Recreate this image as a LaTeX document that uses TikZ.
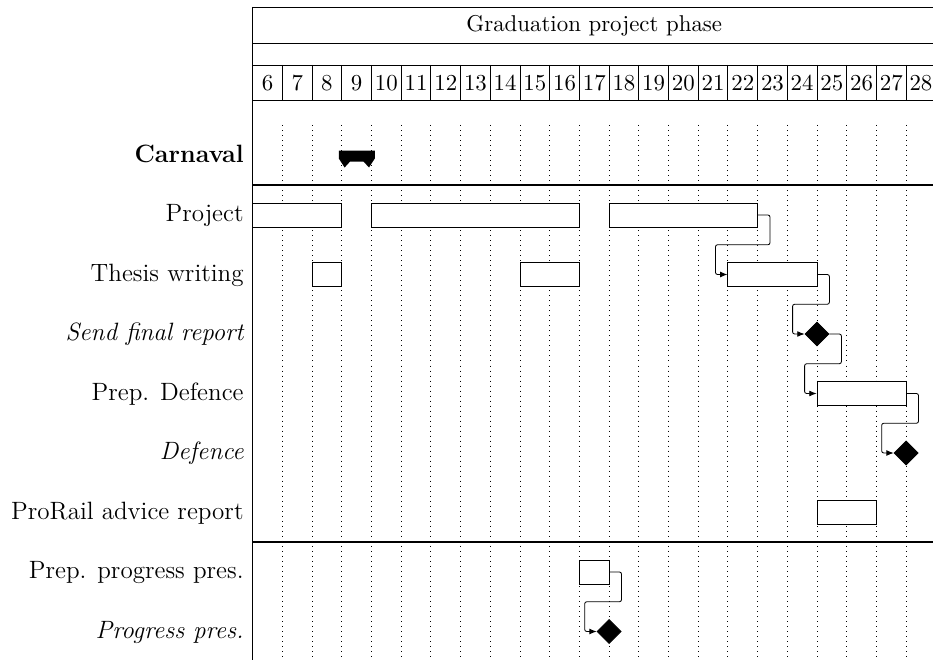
\documentclass[tikz,border=0pt]{standalone}
\usetikzlibrary{shapes.geometric,fit,calc,arrows.meta}
\begin{document}
\begin{tikzpicture}[x=0.479pt,y=-0.479pt,
  every node/.style={font=\fontsize{10.95}{13.6}\selectfont},
  frame/.style={line width=0.4pt},
  sepline/.style={line width=0.8pt},
  gridline/.style={dotted, line width=0.4pt},
  taskbar/.style={draw, fill=white, line width=0.4pt, inner sep=0pt},
  ms/.style={diamond, draw, fill=black, inner sep=0pt, minimum width=11.5pt, minimum height=11.5pt},
  lbl/.style={anchor=base east, inner sep=0pt, font=\fontsize{12}{14.5}\selectfont},
  lnk/.style={line width=0.4pt, rounded corners=1pt, -{Latex[length=3.5pt,width=2.8pt]}},
]
\clip (0,0) rectangle (933,660);

% header: title row, empty row, week numbers
\draw[frame] (252.7,7) -- (935.8,7);
\draw[frame] (252.7,43) -- (935.8,43);
\draw[frame] (252.7,65) -- (935.8,65);
\draw[frame] (252.7,100) -- (935.8,100);
\node[anchor=base] (title) at (594.25,32) {Graduation project phase};
\foreach \i in {1,...,22}
  \draw[frame] (252.7+29.7*\i,65) -- (252.7+29.7*\i,100);
\foreach \i in {0,...,22}{
  \pgfmathtruncatemacro\wk{\i+6}
  \node[anchor=base] (wk\i) at (267.55+29.7*\i,90.5) {\wk};
}

% vertical grid
\foreach \i in {1,...,22}
  \draw[gridline] (252.7+29.7*\i,125) -- (252.7+29.7*\i,660);

% chart borders and group separators
\draw[frame] (252.7,7) -- (252.7,660);
\draw[frame] (935.8,7) -- (935.8,660);
\draw[sepline] (252.7,185.25) -- (935.8,185.25);
\draw[sepline] (252.7,542.25) -- (935.8,542.25);

% row labels
\node[lbl] (l0) at (244,162.5) {\bfseries Carnaval};
\node[lbl] (l1) at (244,221.5) {Project};
\node[lbl] (l2) at (244,281) {Thesis writing};
\node[lbl] (l3) at (244,340.5) {\itshape Send final report};
\node[lbl] (l4) at (244,400) {Prep. Defence};
\node[lbl] (l5) at (244,459.5) {\itshape Defence};
\node[lbl] (l6) at (244,519) {ProRail advice report};
\node[lbl] (l7) at (244,578.5) {Prep. progress pres.};
\node[lbl] (l8) at (244,638) {\itshape Progress pres.};

% Carnaval group bar
\fill (338.8,150.7) -- (374.8,150.7) -- (374.8,158.5) -- (369,167.5) -- (363.5,161.5)
  -- (350.1,161.5) -- (344.6,167.5) -- (338.8,158.5) -- cycle;

% Project
\node[taskbar, fit={(252.7,203)(341.8,227)}] (p1) {};
\node[taskbar, fit={(371.5,203)(579.4,227)}] (p2) {};
\node[taskbar, fit={(609.1,203)(757.6,227)}] (p3) {};
% Thesis writing
\node[taskbar, fit={(312.1,262.5)(341.8,286.5)}] (t1) {};
\node[taskbar, fit={(520.0,262.5)(579.4,286.5)}] (t2) {};
\node[taskbar, fit={(727.9,262.5)(817.0,286.5)}] (t3) {};
% Send final report
\node[ms] (send) at (817,334) {};
% Prep. Defence
\node[taskbar, fit={(817.0,381.5)(906.1,405.5)}] (prep) {};
% Defence
\node[ms] (def) at (906.1,453) {};
% ProRail advice report
\node[taskbar, fit={(817.0,500.5)(876.4,524.5)}] (pro) {};
% Prep. progress pres.
\node[taskbar, fit={(579.4,560)(609.1,584)}] (pp) {};
% Progress pres.
\node[ms] (prog) at (609.1,631.5) {};

% dependencies
\draw[lnk] (p3.east) -- ++(12,0) |- ($(p3.east)!.5!(t3.west)$) -| ($(t3.west)+(-12,0)$) -- (t3.west);
\draw[lnk] (t3.east) -- ++(12,0) |- ($(t3.east)!.5!(send.west)$) -| ($(send.west)+(-12,0)$) -- (send.west);
\draw[lnk] (send.east) -- ++(12,0) |- ($(send.east)!.5!(prep.west)$) -| ($(prep.west)+(-12,0)$) -- (prep.west);
\draw[lnk] (prep.east) -- ++(12,0) |- ($(prep.east)!.5!(def.west)$) -| ($(def.west)+(-12,0)$) -- (def.west);
\draw[lnk] (pp.east) -- ++(12,0) |- ($(pp.east)!.5!(prog.west)$) -| ($(prog.west)+(-12,0)$) -- (prog.west);
\end{tikzpicture}
\end{document}
